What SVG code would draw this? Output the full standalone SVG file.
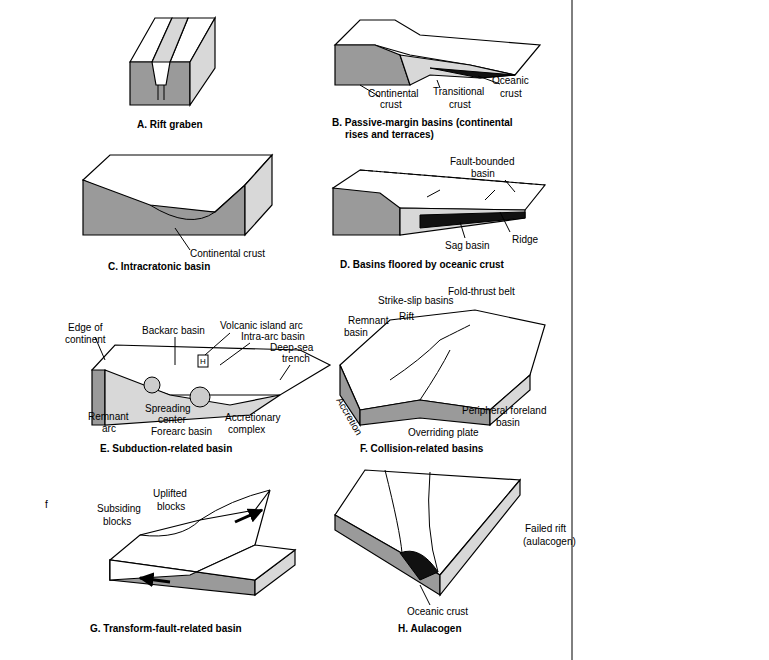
<svg xmlns="http://www.w3.org/2000/svg" width="769" height="660" viewBox="0 0 769 660">
<style>
text{font-family:"Liberation Sans",Arial,sans-serif;font-size:10px;fill:#000}
.t{font-weight:bold}
.top{fill:#fff;stroke:#000;stroke-width:1.2}
.fr{fill:#9a9a9a;stroke:#000;stroke-width:1.2}
.sd{fill:#d8d8d8;stroke:#000;stroke-width:1.2}
.ln{fill:none;stroke:#000;stroke-width:1}
.dk{fill:#111;stroke:#000}
.ds{fill:none;stroke:#000;stroke-dasharray:5 3}
</style>
<defs><marker id="ah" viewBox="0 0 10 10" refX="9" refY="5" markerWidth="5" markerHeight="5" orient="auto"><path d="M0,0L10,5L0,10Z" fill="#000"/></marker></defs>
<rect width="769" height="660" fill="#fff"/>
<line x1="572" y1="0" x2="572" y2="660" stroke="#000" stroke-width="1"/>
<g id="A">
<polygon class="top" points="130,62 155,18 172,18 152,62"/>
<polygon class="top" points="170,62 188,18 215,18 190,62"/>
<polygon class="sd" points="152,62 172,18 188,18 170,62"/>
<polygon class="fr" points="130,62 152,62 156,85 166,85 170,62 190,62 190,105 130,105"/>
<polygon class="sd" points="190,62 215,18 215,68 190,105"/>
<line class="ln" x1="158" y1="85" x2="158" y2="100"/><line class="ln" x1="164" y1="85" x2="164" y2="100"/>
<text class="t" x="137" y="128">A. Rift graben</text>
</g>
<g id="B">
<polygon class="top" points="335,45 360,20 395,20 420,35 480,40 540,45 515,75 470,65 410,55 375,45"/>
<polygon class="fr" points="335,45 375,45 400,55 410,85 335,85"/>
<polygon class="sd" points="400,55 470,65 515,75 480,78 430,75 410,85"/>
<path class="dk" d="M430,68 L515,75 L480,78 Z"/>
<polyline class="ln" points="360,85 380,97"/><polyline class="ln" points="437,80 440,88"/><polyline class="ln" points="478,76 500,84"/>
<text x="368" y="97">Continental</text><text x="380" y="108">crust</text>
<text x="433" y="95">Transitional</text><text x="449" y="108">crust</text>
<text x="492" y="84">Oceanic</text><text x="500" y="97">crust</text>
<text class="t" x="332" y="126">B. Passive-margin basins (continental</text>
<text class="t" x="345" y="138">rises and terraces)</text>
</g>
<g id="C">
<polygon class="top" points="83,180 110,155 272,155 245,185 215,212 150,210"/>
<polygon class="fr" points="83,180 150,205 215,212 245,185 245,235 83,235"/>
<polygon class="sd" points="245,185 272,155 272,205 245,235"/>
<path class="ln" d="M150,205 Q190,230 215,212"/>
<line class="ln" x1="175" y1="228" x2="190" y2="250"/>
<text x="190" y="257">Continental crust</text>
<text class="t" x="108" y="270">C. Intracratonic basin</text>
</g>
<g id="D">
<polygon class="top" points="333,188 360,170 545,185 525,210 400,208"/>
<polygon class="fr" points="333,188 380,193 400,208 400,235 333,235"/>
<polygon class="sd" points="400,208 525,210 525,218 400,235"/>
<path class="dk" d="M420,215 L525,212 L525,218 L420,228 Z"/>
<polyline class="ds" points="360,170 545,185"/>
<line class="ln" x1="427" y1="197" x2="440" y2="190"/><line class="ln" x1="485" y1="200" x2="495" y2="190"/>
<line class="ln" x1="460" y1="222" x2="465" y2="238"/><line class="ln" x1="500" y1="212" x2="510" y2="232"/><line class="ln" x1="505" y1="180" x2="515" y2="192"/>
<text x="450" y="165">Fault-bounded</text><text x="471" y="177">basin</text>
<text x="445" y="249">Sag basin</text><text x="512" y="243">Ridge</text>
<text class="t" x="340" y="268">D. Basins floored by oceanic crust</text>
</g>
<g id="E">
<polygon class="top" points="92,370 115,345 300,350 330,365 280,395 170,395"/>
<polygon class="fr" points="92,370 105,370 105,425 92,425"/>
<polygon class="sd" points="105,370 170,395 200,400 230,405 280,395 250,415 105,425"/>
<circle cx="152" cy="385" r="8" fill="#ccc" stroke="#000"/>
<circle cx="200" cy="397" r="10" fill="#ccc" stroke="#000"/>
<rect x="198" y="355" width="10" height="12" fill="#fff" stroke="#000"/>
<text x="200" y="364" style="font-size:8px">H</text>
<text x="68" y="331">Edge of</text><text x="65" y="343">continent</text>
<text x="142" y="334">Backarc basin</text>
<text x="220" y="329">Volcanic island arc</text><text x="241" y="340">Intra-arc basin</text>
<text x="270" y="351">Deep-sea</text><text x="282" y="362">trench</text>
<text x="145" y="412">Spreading</text><text x="158" y="423">center</text>
<text x="88" y="420">Remnant</text><text x="102" y="432">arc</text>
<text x="151" y="435">Forearc basin</text>
<text x="225" y="421">Accretionary</text><text x="228" y="433">complex</text>
<polyline class="ln" points="95,337 105,360"/><polyline class="ln" points="175,337 175,365"/><polyline class="ln" points="230,333 205,355"/><polyline class="ln" points="250,343 220,365"/><polyline class="ln" points="290,365 280,380"/>
<text class="t" x="100" y="452">E. Subduction-related basin</text>
</g>
<g id="F">
<polygon class="top" points="340,365 390,320 475,310 545,325 530,375 490,410 420,400 360,410"/>
<polygon class="fr" points="340,365 360,410 360,425 340,395"/>
<polygon class="fr" points="360,410 420,400 490,410 490,425 420,418 360,425"/>
<polygon class="sd" points="490,410 530,375 530,390 490,425"/>
<path class="ln" d="M390,380 Q420,360 440,340 Q460,330 470,325"/>
<path class="ln" d="M420,400 Q440,370 450,350"/>
<text x="378" y="304">Strike-slip basins</text><text x="448" y="295">Fold-thrust belt</text>
<text x="399" y="320">Rift</text><text x="348" y="324">Remnant</text><text x="344" y="336">basin</text>
<text x="462" y="414">Peripheral foreland</text><text x="496" y="426">basin</text>
<text x="408" y="436">Overriding plate</text>
<text x="336" y="400" transform="rotate(60 336 400)">Accretion</text>
<text class="t" x="360" y="452">F. Collision-related basins</text>
</g>
<text x="45" y="508">f</text>
<g id="G">
<polygon class="top" points="110,560 140,535 200,520 255,510 270,490 255,545 190,575 110,580"/>
<polygon class="fr" points="110,560 110,580 255,595 255,580"/>
<polygon class="sd" points="255,580 295,550 295,565 255,595"/>
<polygon class="top" points="110,580 190,575 255,545 295,550 255,580 110,560"/>
<path class="ln" d="M140,535 Q180,540 200,520 Q230,500 270,490"/>
<line x1="235" y1="522" x2="262" y2="510" stroke="#000" stroke-width="3" marker-end="url(#ah)"/>
<line x1="170" y1="582" x2="140" y2="578" stroke="#000" stroke-width="3" marker-end="url(#ah)"/>
<text x="97" y="512">Subsiding</text><text x="103" y="525">blocks</text>
<text x="153" y="497">Uplifted</text><text x="157" y="510">blocks</text>
<text class="t" x="90" y="632">G. Transform-fault-related basin</text>
</g>
<g id="H">
<polygon class="top" points="335,515 365,470 520,480 440,575"/>
<polygon class="fr" points="335,515 440,575 440,595 335,530"/>
<polygon class="sd" points="440,575 520,480 520,495 440,595"/>
<path class="ln" d="M385,470 Q400,530 402,553"/><path class="ln" d="M430,472 Q425,530 438,572"/>
<path class="dk" d="M400,553 Q420,545 438,572 L420,580 Z"/>
<line class="ln" x1="420" y1="585" x2="430" y2="605"/>
<text x="525" y="532">Failed rift</text><text x="523" y="545">(aulacogen)</text>
<text x="407" y="615">Oceanic crust</text>
<text class="t" x="398" y="632">H. Aulacogen</text>
</g>
</svg>
